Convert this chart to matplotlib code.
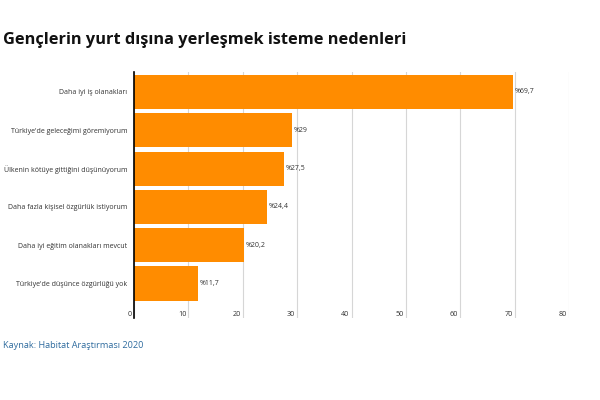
import numpy as np
import matplotlib.pyplot as plt
import matplotlib.transforms as mtransforms

# Veri
reasons = ["Daha iyi iş olanakları",
           "Türkiye'de geleceğimi göremiyorum",
           "Ülkenin kötüye gittiğini düşünüyorum",
           "Daha fazla kişisel özgürlük istiyorum",
           "Daha iyi eğitim olanakları mevcut",
           "Türkiye'de düşünce özgürlüğü yok"]
values = [69.7, 29, 27.5, 24.4, 20.2, 11.7]
value_labels = ["%69,7", "%29", "%27,5", "%24,4", "%20,2", "%11,7"]
xticks = [0, 10, 20, 30, 40, 50, 60, 70, 80]

plt.rcParams['font.family'] = ['Open Sans', 'DejaVu Sans']

fig = plt.figure(figsize=(6, 4), dpi=100)
ax = fig.add_axes([134/600, 1 - 318/400, (569 - 134)/600, (318 - 72)/400])

y = np.arange(len(values))
ax.barh(y, values, height=0.89, color='#ff8c00', zorder=2)

ax.set_xlim(0, 80)
ax.set_ylim(5.9, -0.52)

# etiketler
for yi, v, lab in zip(y, values, value_labels):
    ax.annotate(lab, xy=(v, yi), xytext=(1.5, 0), textcoords='offset points',
                va='center', ha='left', fontsize=5, color='#333333')

ax.set_yticks(y)
ax.set_yticklabels(reasons, fontsize=5.0, color='#333333')
ax.tick_params(axis='y', length=0, pad=5)

ax.set_xticks(xticks)
ax.set_xticklabels([str(t) for t in xticks], fontsize=5.2, color='#333333')
ax.tick_params(axis='x', length=0, pad=-5)
offset = mtransforms.ScaledTranslation(-2/100, 0, fig.dpi_scale_trans)
for lab in ax.get_xticklabels():
    lab.set_ha('right')
    lab.set_transform(lab.get_transform() + offset)

ax.grid(axis='x', color='#d6d6d6', linewidth=0.8, zorder=0)
for side in ['top', 'right', 'bottom']:
    ax.spines[side].set_visible(False)
ax.spines['left'].set_color('black')
ax.spines['left'].set_linewidth(1.2)
ax.spines['left'].set_zorder(3)

fig.text(3/600, 1 - 40/400, "Gençlerin yurt dışına yerleşmek isteme nedenleri",
         fontsize=11.8, fontweight='bold', color='#111111', va='center', ha='left')
fig.text(3/600, 1 - 346/400, "Kaynak: Habitat Araştırması 2020",
         fontsize=6.6, color='#2e6b9e', va='center', ha='left')

plt.savefig('out.png', dpi=100)
